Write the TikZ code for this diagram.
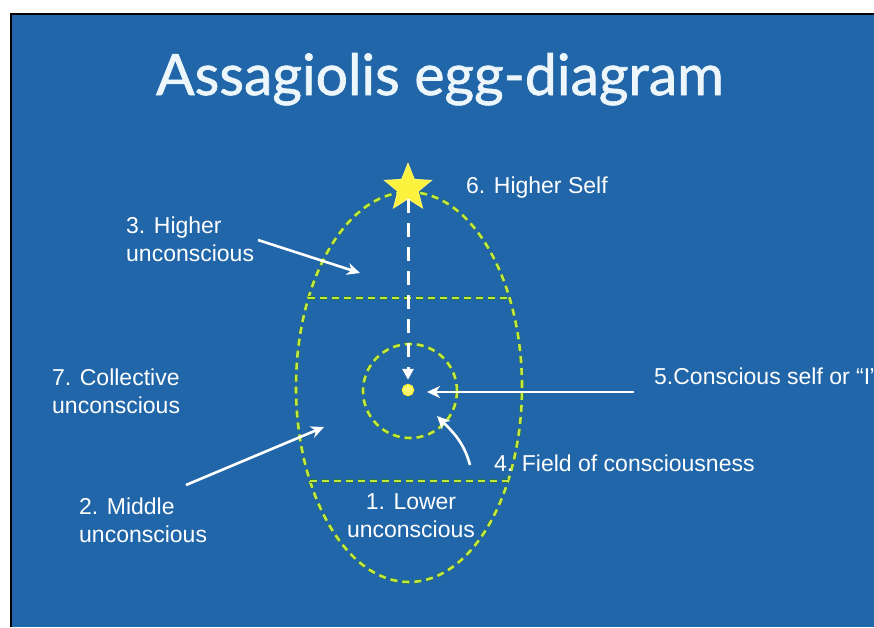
\documentclass[tikz,border=0pt]{standalone}
\usepackage{fontspec}
\setmainfont{Liberation Sans}
\newfontfamily\titlefont[FakeBold=1.2]{Lato}
\usepackage{xcolor}
\usetikzlibrary{arrows.meta, shapes.geometric}

\definecolor{slideblue}{RGB}{33,102,169}
\definecolor{eggline}{RGB}{196,232,64}
\definecolor{eggshade}{RGB}{40,112,70}
\definecolor{staryellow}{RGB}{250,242,60}
\definecolor{titlewhite}{RGB}{236,246,251}

\begin{document}
\begin{tikzpicture}[
    x=1pt, y=-1pt,
    lbl/.style={text=white, font=\fontsize{23}{28}\selectfont, inner sep=0pt, align=left},
    eggdash/.style={draw=eggline, line width=2.6pt, dash pattern=on 7pt off 5pt,
      preaction={draw=eggshade, line width=3.8pt, dash pattern=on 7pt off 5pt}},
    pointer/.style={draw=white, line width=2.6pt, -{Stealth[length=13pt, width=12pt, inset=4pt]}}
  ]
  \useasboundingbox (0,0) rectangle (874,627);
  \fill[white] (0,0) rectangle (874,627);
  \fill[black] (10,13) rectangle (874,627);
  \fill[slideblue] (12,15) rectangle (874,627);

  % title
  \node (title) [text=titlewhite, font=\titlefont\fontsize{57}{60}\selectfont, anchor=base] at (440,95) {Assagiolis egg-diagram};

  % egg with its three layers
  \node (egg) [ellipse, eggdash, minimum width=226pt, minimum height=390pt, inner sep=0pt] at (409,387) {};
  \draw[eggdash] (308,298) -- (510,298);
  \draw[eggdash] (310,481) -- (508,481);
  \node (field) [circle, eggdash, minimum size=94pt, inner sep=0pt] at (410,391) {};
  \node (self) [circle, fill=yellow!55!white, draw=staryellow, line width=1.5pt, minimum size=11pt, inner sep=0pt] at (408,390) {};
  \node (star) [star, star points=5, star point ratio=2.3, fill=staryellow, draw=yellow!60!white, line width=1pt, minimum size=49pt, inner sep=0pt] at (408,188) {};
  \draw[white, line width=3pt, dash pattern=on 14pt off 10pt, shorten >=4pt, -{Triangle[length=11pt, width=11pt]}] (star.south) -- (self.north);

  % labels (base is the last line)
  \node (higherself) [lbl, anchor=base west] at (466,193) {6. Higher Self};
  \node (higher) [lbl, anchor=base west] at (126,261) {3. Higher\\unconscious};
  \node (collective) [lbl, anchor=base west] at (52,413) {7. Collective\\unconscious};
  \node (middle) [lbl, anchor=base west] at (79,542) {2. Middle\\unconscious};
  \node (lower) [lbl, align=center, anchor=base] at (411,537) {1. Lower\\unconscious};
  \node (fieldlbl) [lbl, anchor=base west] at (494,471) {4. Field of consciousness};
  \node (selflbl) [lbl, anchor=base west] at (654,384) {5.Conscious self or “I”};

  % pointers
  \coordinate (higher-tail) at (258,240);
  \coordinate (higher-tip) at (360,273);
  \coordinate (middle-tail) at (186,485);
  \coordinate (middle-tip) at (324,427);
  \coordinate (self-tail) at (634,392);
  \coordinate (self-tip) at (427,392);
  \coordinate (field-tail) at (470,465);
  \coordinate (field-tip) at (437,416);
  \draw[pointer] (higher-tail) -- (higher-tip);
  \draw[pointer] (middle-tail) -- (middle-tip);
  \draw[pointer] (self-tail) -- (self-tip);
  \draw[pointer] (field-tail) to[out=105, in=-45] (field-tip);
\end{tikzpicture}
\end{document}
